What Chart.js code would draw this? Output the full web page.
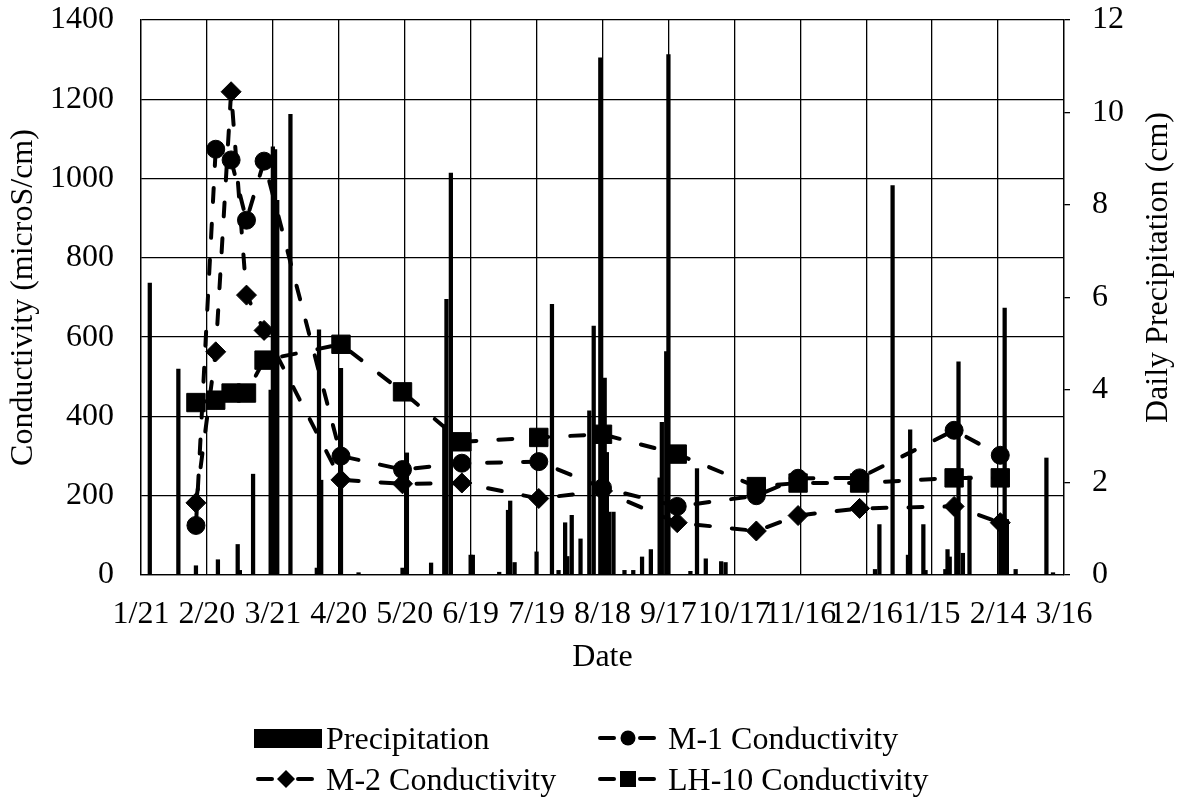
<!DOCTYPE html>
<html>
<head>
<meta charset="utf-8">
<title>Conductivity and Daily Precipitation</title>
<script src="https://cdn.jsdelivr.net/npm/chart.js@4.4.1/dist/chart.umd.min.js"></script>
<style>
  html, body { margin: 0; padding: 0; background: #fff; }
  #wrap { position: relative; width: 1178px; height: 804px; overflow: hidden; }
  #chart { position: absolute; left: 0; top: 0; }
  .lg { position: absolute; height: 40px; line-height: 40px; white-space: nowrap;
        font-family: 'Liberation Serif', 'Times New Roman', serif; font-size: 32px; color: #000; }
  .sym { position: absolute; }
</style>
</head>
<body>
<div id="wrap">
  <canvas id="chart" width="1178" height="804"></canvas>
</div>
<script>
// Days counted from 1/21/2008
const xTickLabels = ['1/21', '2/20', '3/21', '4/20', '5/20', '6/19', '7/19', '8/18',
                     '9/17', '10/17', '11/16', '12/16', '1/15', '2/14', '3/16'];

// Sampling days for the three wells
const sampleDays = [25, 34, 41, 48, 56, 91, 119, 146, 181, 210, 244, 280, 299, 327, 370, 391];
const m1Conductivity   = [125, 1074, 1047, 895, 1044, 300, 266, 282, 286, 220, 173, 200, 244, 245, 365, 302];
const m2Conductivity   = [182, 563, 1219, 706, 617, 240, 230, 232, 193, 212, 132, 111, 150, 168, 173, 132];
const lh10Conductivity = [435, 441, 459, 459, 542, 582, 462, 336, 347, 355, 305, 223, 232, 232, 245, 245];

// Daily precipitation (cm)
const precipDays = [4, 17, 25, 35, 44, 45, 51, 59, 60, 61, 62, 68, 80, 81, 82, 91, 99, 119, 121, 132,
  138, 139, 141, 150, 151, 163, 167, 168, 170, 180, 187, 190, 193, 194, 196, 200, 204, 206, 209, 211,
  212, 213, 215, 220, 224, 228, 232, 236, 237, 239, 240, 250, 253, 257, 264, 266, 334, 336, 342, 349,
  350, 356, 357, 366, 367, 368, 371, 372, 374, 377, 391, 392, 393, 394, 398, 412, 415];
const precipCm = [6.31, 4.45, 0.2, 0.33, 0.66, 0.1, 2.18, 4.0, 9.26, 9.2, 8.1, 9.96, 0.15, 5.3, 2.05, 4.47, 0.05, 0.15, 2.64, 0.26,
  3.25, 5.96, 8.69, 0.43, 0.43, 0.06, 1.4, 1.6, 0.27, 0.5, 5.85, 0.1, 1.13, 0.4, 1.29, 0.78, 3.55, 5.38, 11.18, 4.26,
  2.65, 1.36, 1.36, 0.1, 0.1, 0.39, 0.55, 2.1, 3.3, 4.83, 11.25, 0.08, 2.3, 0.35, 0.29, 0.27, 0.12, 1.09, 8.42, 0.43,
  3.14, 1.09, 0.1, 0.12, 0.55, 0.39, 1.36, 4.61, 0.47, 2.14, 1.3, 1.3, 5.77, 1.2, 0.12, 2.53, 0.05];

const FONT = "'Liberation Serif', 'Times New Roman', serif";
const INK = '#000';
const rightTitle = 'Daily Precipitation (cm)';

const pairs = (xs, ys) => xs.map((x, i) => ({ x: x, y: ys[i] }));

function lineSeries(label, values, style, radius) {
  return {
    type: 'line',
    label: label,
    data: pairs(sampleDays, values),
    yAxisID: 'y',
    order: 0,
    borderColor: INK,
    borderWidth: 4,
    borderDash: [14, 22],
    borderCapStyle: 'round',
    borderJoinStyle: 'round',
    tension: 0,
    fill: false,
    pointStyle: style,
    pointRadius: radius,
    pointBorderWidth: 1,
    pointBackgroundColor: INK,
    pointBorderColor: INK
  };
}

// Right-hand axis title, read bottom to top
const rightTitlePlugin = {
  id: 'rightTitle',
  afterDraw(chart) {
    const ctx = chart.ctx;
    const s = chart.scales.y1;
    const area = chart.chartArea;
    ctx.save();
    ctx.translate(s.right - 19, (area.top + area.bottom) / 2 - 30);
    ctx.rotate(-Math.PI / 2);
    ctx.font = '32px ' + FONT;
    ctx.fillStyle = INK;
    ctx.textAlign = 'center';
    ctx.textBaseline = 'middle';
    ctx.fillText(rightTitle, 0, 0);
    ctx.restore();
  }
};

const tickFont = { family: FONT, size: 32 };

// Fixed side widths; the tick-label overhang must not push the plot down
function fixVertical(width) {
  return (s) => { s.width = width; s.paddingTop = 0; s.paddingBottom = 0; };
}

new Chart(document.getElementById('chart'), {
  type: 'bar',
  data: {
    datasets: [
      lineSeries('M-1 Conductivity', m1Conductivity, 'circle', 9),
      lineSeries('M-2 Conductivity', m2Conductivity, 'rectRot', 10),
      lineSeries('LH-10 Conductivity', lh10Conductivity, 'rect', 13),
      {
        type: 'bar',
        label: 'Precipitation',
        data: pairs(precipDays, precipCm),
        yAxisID: 'y1',
        order: 1,
        backgroundColor: INK,
        borderWidth: 0,
        barThickness: 3.6,
        grouped: false
      }
    ]
  },
  options: {
    responsive: false,
    animation: false,
    devicePixelRatio: 1,
    layout: { padding: { top: 20, bottom: 125, left: 0, right: 0 } },
    plugins: { legend: { display: false }, tooltip: { enabled: false } },
    scales: {
      x: {
        type: 'linear',
        position: 'bottom',
        min: 0,
        max: 420,
        offset: false,
        grid: { color: INK, lineWidth: 1.3, drawTicks: false, offset: false },
        border: { color: INK, width: 1.3 },
        ticks: {
          stepSize: 30, autoSkip: false, maxRotation: 0, minRotation: 0,
          padding: 20, color: INK, font: tickFont,
          callback: (v, i) => xTickLabels[i]
        },
        title: { display: true, text: 'Date', color: INK, font: tickFont, padding: { top: 0, bottom: 2 } },
        afterFit: (s) => { s.height = 104; }
      },
      y: {
        position: 'left',
        min: 0,
        max: 1400,
        grid: { color: INK, lineWidth: 1.3, drawTicks: false },
        border: { color: INK, width: 1.3 },
        ticks: { stepSize: 200, padding: 27, color: INK, font: tickFont, callback: (v) => String(v) },
        title: { display: true, text: 'Conductivity (microS/cm)', color: INK, font: tickFont, padding: { top: 4, bottom: 0 } },
        afterFit: fixVertical(141)
      },
      y1: {
        position: 'right',
        min: 0,
        max: 12,
        grid: { drawOnChartArea: false, drawTicks: true, tickLength: 6, color: INK, lineWidth: 1.3 },
        border: { color: INK, width: 1.3 },
        ticks: { stepSize: 2, padding: 22, color: INK, font: tickFont, callback: (v) => String(v) },
        afterFit: fixVertical(114)
      }
    }
  },
  plugins: [rightTitlePlugin]
});

// Legend below the plot
const legendItems = [
  { label: 'Precipitation',      kind: 'bar',     left: 254, textLeft: 326, row: 0 },
  { label: 'M-1 Conductivity',   kind: 'circle',  left: 596, textLeft: 668, row: 0 },
  { label: 'M-2 Conductivity',   kind: 'diamond', left: 254, textLeft: 326, row: 1 },
  { label: 'LH-10 Conductivity', kind: 'square',  left: 596, textLeft: 668, row: 1 }
];
const rowTop = [718, 759];
const NS = 'http://www.w3.org/2000/svg';
const wrap = document.getElementById('wrap');

legendItems.forEach((it) => {
  const svg = document.createElementNS(NS, 'svg');
  svg.setAttribute('class', 'sym');
  svg.setAttribute('width', it.kind === 'bar' ? '70' : '64');
  svg.setAttribute('height', '30');
  svg.style.left = it.left + 'px';
  svg.style.top = (rowTop[it.row] + 5) + 'px';
  const add = (tag, attrs) => {
    const el = document.createElementNS(NS, tag);
    Object.keys(attrs).forEach((k) => el.setAttribute(k, attrs[k]));
    svg.appendChild(el);
  };
  if (it.kind === 'bar') {
    add('rect', { x: 0, y: 6, width: 68, height: 19, fill: INK });
  } else {
    add('line', { x1: 4, y1: 15, x2: 18, y2: 15, stroke: INK, 'stroke-width': 4, 'stroke-linecap': 'round' });
    add('line', { x1: 44, y1: 15, x2: 58, y2: 15, stroke: INK, 'stroke-width': 4, 'stroke-linecap': 'round' });
    const cx = 32, cy = 15;
    if (it.kind === 'circle') add('circle', { cx: cx, cy: cy, r: 7.5, fill: INK });
    if (it.kind === 'diamond') add('polygon', { points: `${cx - 9},${cy} ${cx},${cy - 9} ${cx + 9},${cy} ${cx},${cy + 9}`, fill: INK });
    if (it.kind === 'square') add('rect', { x: cx - 8, y: cy - 8, width: 16, height: 16, fill: INK });
  }
  wrap.appendChild(svg);

  const txt = document.createElement('div');
  txt.className = 'lg';
  txt.textContent = it.label;
  txt.style.left = it.textLeft + 'px';
  txt.style.top = rowTop[it.row] + 'px';
  wrap.appendChild(txt);
});
</script>
</body>
</html>
